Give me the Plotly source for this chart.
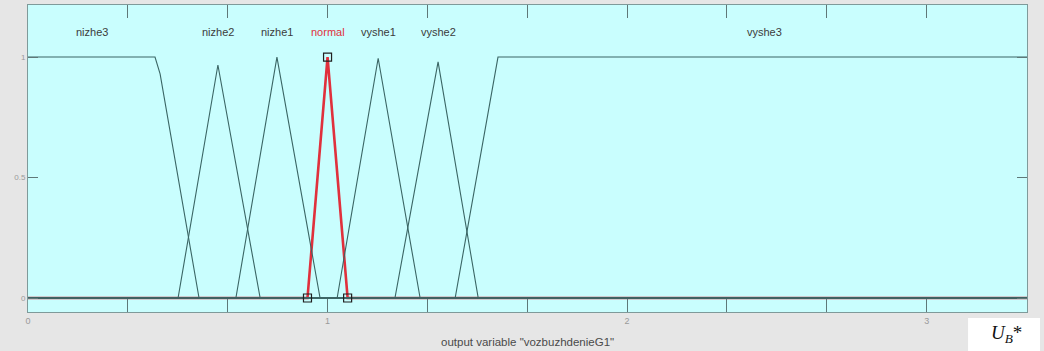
import plotly.graph_objects as go

# ---- data ----
x_max = 3.335
nizhe3_x = [0.0, 0.424, 0.441, 0.571, 3.335]
nizhe3_y = [1.0, 1.0, 0.93, 0.0, 0.0]
nizhe2_x = [0.0, 0.501, 0.634, 0.775, 3.335]
nizhe2_y = [0.0, 0.0, 0.967, 0.0, 0.0]
nizhe1_x = [0.0, 0.694, 0.831, 0.975, 3.335]
nizhe1_y = [0.0, 0.0, 1.0, 0.0, 0.0]
normal_x = [0.0, 0.933, 1.0, 1.067, 3.335]
normal_y = [0.0, 0.0, 1.0, 0.0, 0.0]
vyshe1_x = [0.0, 1.032, 1.169, 1.309, 3.335]
vyshe1_y = [0.0, 0.0, 0.995, 0.0, 0.0]
vyshe2_x = [0.0, 1.225, 1.369, 1.503, 3.335]
vyshe2_y = [0.0, 0.0, 0.98, 0.0, 0.0]
vyshe3_x = [0.0, 1.426, 1.569, 3.335]
vyshe3_y = [0.0, 0.0, 1.0, 1.0]

mf_names = ["nizhe3", "nizhe2", "nizhe1", "normal", "vyshe1", "vyshe2", "vyshe3"]
label_x = [0.212, 0.634, 0.831, 1.0, 1.169, 1.369, 2.46]
label_y = 1.104

x_tickvals = [0, 1, 2, 3]
x_ticktext = ["0", "1", "2", "3"]
x_minor_step = 1 / 3
y_tickvals = [0, 0.5, 1]
y_ticktext = ["0", "0.5", "1"]
x_title = 'output variable "vozbuzhdenieG1"'

# ---- styles ----
dark = "#3a6564"
red = "#e0303c"
tick_col = "#5f7878"

fig = go.Figure()

# selected MF (red) first, others drawn over it
fig.add_trace(go.Scatter(x=normal_x, y=normal_y, mode="lines",
                         line=dict(color=red, width=2.6), hoverinfo="skip"))

for xs, ys in [(nizhe3_x, nizhe3_y), (nizhe2_x, nizhe2_y), (nizhe1_x, nizhe1_y),
               (vyshe1_x, vyshe1_y), (vyshe2_x, vyshe2_y), (vyshe3_x, vyshe3_y)]:
    fig.add_trace(go.Scatter(x=xs, y=ys, mode="lines",
                             line=dict(color=dark, width=1.1), hoverinfo="skip"))

# vertex handles on the selected MF
fig.add_trace(go.Scatter(x=normal_x[1:4], y=normal_y[1:4], mode="markers",
                         marker=dict(symbol="square-open", size=8,
                                     color="#202020", line=dict(width=1.2)),
                         hoverinfo="skip"))

annotations = []
for name, lx in zip(mf_names, label_x):
    annotations.append(dict(x=lx, y=label_y, xref="x", yref="y", text=name,
                            showarrow=False,
                            font=dict(family="Liberation Sans, Arial", size=11,
                                      color=red if name == "normal" else "#3c3c3c")))

annotations.append(dict(x=0.4995, y=-0.098, xref="paper", yref="paper",
                        text=x_title, showarrow=False, yanchor="middle",
                        font=dict(family="Liberation Sans, Arial", size=11.5, color="#4a4a4a")))

annotations.append(dict(x=0.979, y=-0.072, xref="paper", yref="paper",
                        text="<i>U</i><sub><i>B</i></sub>*", showarrow=False,
                        yanchor="middle", xanchor="center",
                        font=dict(family="Liberation Serif, Times New Roman", size=19,
                                  color="#111111")))

fig.update_layout(
    width=1044, height=351, autosize=False,
    margin=dict(l=28, r=17, t=5, b=39, pad=0),
    paper_bgcolor="#e6e6e6",
    plot_bgcolor="#c9fefe",
    showlegend=False,
    annotations=annotations,
    shapes=[dict(type="rect", xref="paper", yref="paper",
                 x0=0.941, x1=1.013, y0=-0.127, y1=-0.0195,
                 fillcolor="white", line=dict(width=0), layer="above")],
)

fig.update_xaxes(range=[0, x_max], tickvals=x_tickvals, ticktext=x_ticktext,
                 ticks="inside", ticklen=13, tickcolor=tick_col, tickwidth=1,
                 minor=dict(tick0=0, dtick=x_minor_step, ticks="inside", ticklen=13,
                            tickcolor=tick_col, tickwidth=1, showgrid=False),
                 showline=True, linecolor="#7f9a9a", linewidth=1, mirror="ticks",
                 showgrid=False, zeroline=False,
                 tickfont=dict(family="Liberation Sans, Arial", size=9, color="#9a9a9a"))
fig.update_yaxes(range=[-0.058, 1.216], tickvals=y_tickvals, ticktext=y_ticktext,
                 ticks="inside", ticklen=10, tickcolor=tick_col, tickwidth=1,
                 showline=True, linecolor="#7f9a9a", linewidth=1, mirror="ticks",
                 showgrid=False, zeroline=False,
                 tickfont=dict(family="Liberation Sans, Arial", size=8, color="#9a9a9a"))

fig.write_html("out.html", config={"displayModeBar": False},
               post_script="document.body.style.margin='0';")
